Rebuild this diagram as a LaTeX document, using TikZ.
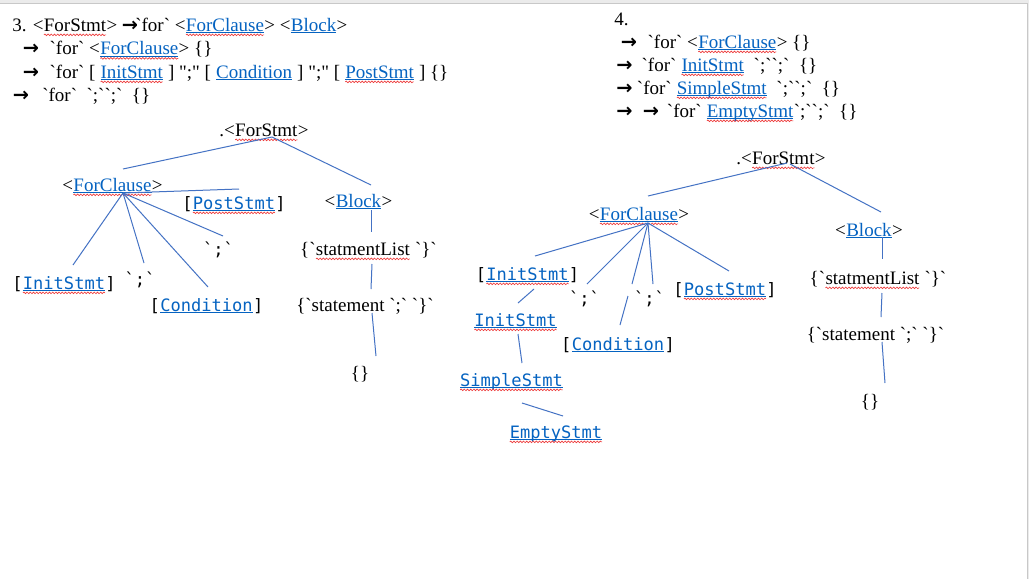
\documentclass[tikz,border=0pt]{standalone}
\usepackage{fontspec}
\usetikzlibrary{decorations.pathmorphing}

\newfontfamily\docfont{Liberation Serif}
\newfontfamily\codefont{DejaVu Sans Mono}
\newfontfamily\arrowfont{DejaVu Sans}

\definecolor{linkblue}{HTML}{0563C1}
\definecolor{lineblue}{HTML}{4472C4}
\definecolor{squigred}{HTML}{EE3B3B}
\definecolor{pagegray}{HTML}{EBEBEB}
\definecolor{rimgray}{HTML}{C8C8C8}

\tikzset{
	edge/.style={draw=lineblue, line width=0.75pt},
	txt/.style={font=\docfont\fontsize{14.25}{17}\selectfont, anchor=base west, inner sep=0pt},
	lbl/.style={font=\docfont\fontsize{14.25}{17}\selectfont, anchor=base, inner sep=0pt},
	code/.style={font=\codefont\fontsize{12.8}{15}\selectfont, anchor=base, inner sep=0pt},
	word/.style={inner sep=0pt, outer sep=0pt, anchor=base, draw=none, fill=none},
	uline/.style={draw=linkblue, line width=0.55pt},
	squig/.style={draw=squigred, line width=0.5pt, decorate, decoration={snake, amplitude=0.6pt, segment length=2.4pt}}
}

\newcommand\arr{\makebox[10pt][l]{\arrowfont\bfseries\fontsize{14.5}{14}\selectfont →}}
\newcommand\sq[1]{\tikz[baseline=(w.base)]{\node[word](w){#1};\draw[squig]([yshift=-2.9pt]w.base west)--([yshift=-2.9pt]w.base east);}}
\newcommand\lnk[1]{\tikz[baseline=(w.base)]{\node[word,text=linkblue](w){#1};\draw[uline]([yshift=-1.2pt]w.base west)--([yshift=-1.2pt]w.base east);}}
\newcommand\lnksq[1]{\tikz[baseline=(w.base)]{\node[word,text=linkblue](w){#1};\draw[uline]([yshift=-1.2pt]w.base west)--([yshift=-1.2pt]w.base east);\draw[squig]([yshift=-2.9pt]w.base west)--([yshift=-2.9pt]w.base east);}}

\begin{document}
\begin{tikzpicture}[x=0.75pt, y=-0.75pt]
	\useasboundingbox (0,0) rectangle (1029,579);
	\fill[white] (0,0) rectangle (1029,579);
	\fill[pagegray] (0,0) rectangle (1029,3);
	\fill[pagegray] (1028,3) rectangle (1029,579);
	\draw[rimgray, line width=0.75pt] (0,3.5) -- (1027.5,3.5) -- (1027.5,579);

	% derivation 3
	\node[txt] (d3a) at (12,31) {3. <\sq{ForStmt}> \arr`for` <\lnksq{ForClause}> <\lnk{Block}>};
	\node[txt] (d3b) at (22.7,54.5) {\arr\hspace{10pt}`for` <\lnksq{ForClause}> \{\}};
	\node[txt] (d3c) at (22.7,78) {\arr\hspace{10pt}`for` [ \lnksq{InitStmt} ] ";" [ \lnk{Condition} ] ";" [ \lnksq{PostStmt} ] \{\}};
	\node[txt] (d3d) at (12.7,101) {\arr\hspace{12pt}`for`~ `;``;`~ \{\}};

	% derivation 4
	\node[txt] (d4a) at (614,25) {4.};
	\node[txt] (d4b) at (620.7,48) {\arr\hspace{10pt}`for` <\lnksq{ForClause}> \{\}};
	\node[txt] (d4c) at (616,71) {\arr\hspace{9pt}`for` \lnksq{InitStmt}~ `;``;`~ \{\}};
	\node[txt] (d4d) at (616,94) {\arr\hspace{5.5pt}`for` \lnksq{SimpleStmt}~ `;``;`~ \{\}};
	\node[txt] (d4e) at (616,117) {\arr\hspace{10pt}\arr\hspace{8pt}`for` \lnksq{EmptyStmt}`;``;`~ \{\}};

	% tree 3
	\node[lbl] (root1) at (264,136) {.<\sq{ForStmt}>};
	\node[lbl] (fc1) at (112.5,191) {<\lnksq{ForClause}>};
	\node[code] (post1) at (234,209) {[\lnksq{PostStmt}]};
	\node[code] (semib1) at (218.5,255) {`;`};
	\node[code] (init1) at (64,289) {[\lnksq{InitStmt}]};
	\node[code] (semia1) at (140,285) {`;`};
	\node[code] (cond1) at (206.5,311) {[\lnk{Condition}]};
	\node[lbl] (blk1) at (358.5,207) {<\lnk{Block}>};
	\node[lbl] (stl1) at (368.5,255) {\{`\sq{statmentList} `\}`};
	\node[lbl] (stm1) at (365,311) {\{`statement `;` `\}`};
	\node[lbl] (empty1) at (360,379) {\{\}};

	\draw[edge] ([shift={(8,1)}]root1.base) -- ([shift={(10.5,-22)}]fc1.base);
	\draw[edge] ([shift={(8,1)}]root1.base) -- ([shift={(12.5,-22)}]blk1.base);
	\coordinate (hub1) at ([shift={(10.5,2)}]fc1.base);
	\foreach \n/\dx/\dy in {post1/5/-20, init1/9/-24, semia1/4/-22, cond1/1.5/-24, semib1/4.5/-19}
		\draw[edge] (hub1) -- ([shift={(\dx,\dy)}]\n.base);
	\draw[edge] ([shift={(12.5,3)}]blk1.base) -- ([shift={(2.5,-23)}]stl1.base);
	\draw[edge] ([shift={(3.5,9)}]stl1.base) -- ([shift={(6,-22)}]stm1.base);
	\draw[edge] ([shift={(7,2)}]stm1.base) -- ([shift={(16,-23)}]empty1.base);

	% tree 4
	\node[lbl] (root2) at (781,164) {.<\sq{ForStmt}>};
	\node[lbl] (fc2) at (639,220) {<\lnksq{ForClause}>};
	\node[code] (init2) at (527.5,280) {[\lnksq{InitStmt}]};
	\node[code] (semia2) at (584.5,304) {`;`};
	\node[code] (semib2) at (649.5,304) {`;`};
	\node[code] (post2) at (725,295) {[\lnksq{PostStmt}]};
	\node[code] (cond2) at (618,350) {[\lnk{Condition}]};
	\node[code] (initb2) at (515.5,326) {\lnksq{InitStmt}};
	\node[code] (simple2) at (511.5,386) {\lnksq{SimpleStmt}};
	\node[code] (emptyst2) at (556,438) {\lnksq{EmptyStmt}};
	\node[lbl] (blk2) at (869,236) {<\lnk{Block}>};
	\node[lbl] (stl2) at (878,284) {\{`\sq{statmentList} `\}`};
	\node[lbl] (stm2) at (875.5,340) {\{`statement `;` `\}`};
	\node[lbl] (empty2) at (870,407) {\{\}};

	\draw[edge] ([shift={(6,-1)}]root2.base) -- ([shift={(9,-24)}]fc2.base);
	\draw[edge] ([shift={(9,0)}]root2.base) -- ([shift={(12,-24)}]blk2.base);
	\coordinate (hub2) at ([shift={(9,3)}]fc2.base);
	\coordinate (gap2a) at (632,284);
	\coordinate (gap2b) at (628,296);
	\foreach \n/\dx/\dy in {init2/7.5/-24, semia2/2.5/-20, semib2/3.5/-20, post2/4/-24}
		\draw[edge] (hub2) -- ([shift={(\dx,\dy)}]\n.base);
	\draw[edge] (hub2) -- (gap2a);
	\draw[edge] (gap2b) -- ([shift={(2,-25)}]cond2.base);
	\draw[edge] ([shift={(6.5,9)}]init2.base) -- ([shift={(2.5,-23)}]initb2.base);
	\draw[edge] ([shift={(2.5,8)}]initb2.base) -- ([shift={(10.5,-23)}]simple2.base);
	\draw[edge] ([shift={(10.5,17)}]simple2.base) -- ([shift={(7,-22)}]emptyst2.base);
	\draw[edge] ([shift={(13,1)}]blk2.base) -- ([shift={(4,-25)}]stl2.base);
	\draw[edge] ([shift={(4,9)}]stl2.base) -- ([shift={(5.5,-23)}]stm2.base);
	\draw[edge] ([shift={(6.5,2)}]stm2.base) -- ([shift={(15,-24)}]empty2.base);

\end{tikzpicture}
\end{document}
